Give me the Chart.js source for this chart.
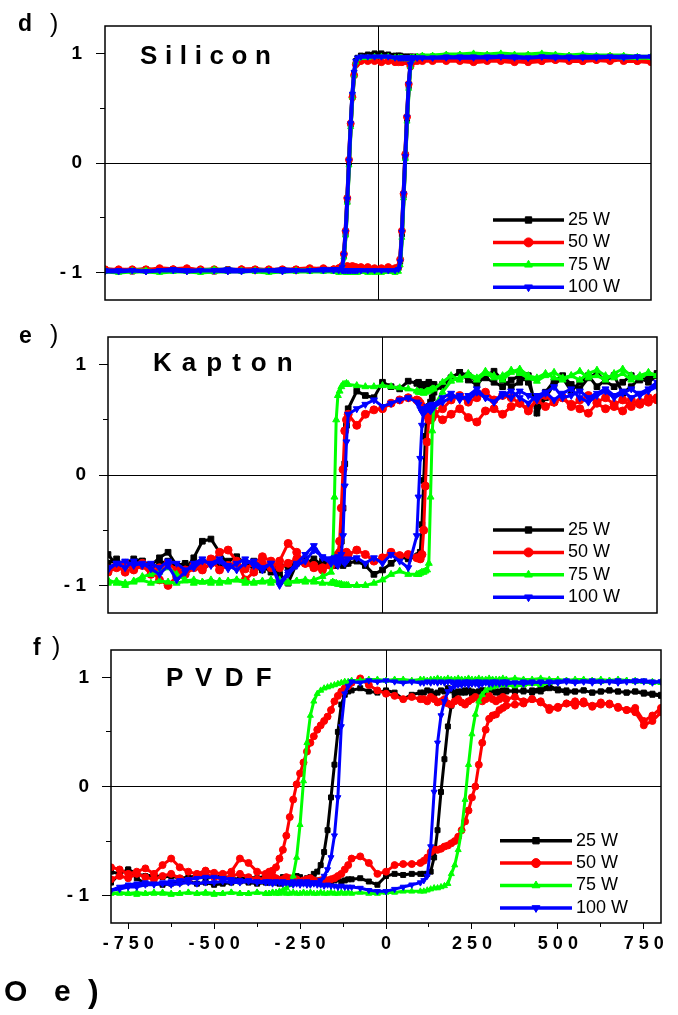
<!DOCTYPE html>
<html><head><meta charset="utf-8">
<script src="https://cdn.jsdelivr.net/npm/chart.js@4/dist/chart.umd.min.js"></script>
<style>
html,body{margin:0;padding:0;background:#fff;}
#wrap{position:relative;width:678px;height:1015px;overflow:hidden;font-family:"Liberation Sans",Arial,Helvetica,sans-serif;color:#000}
canvas{position:absolute;left:0}
.t{position:absolute;white-space:pre;line-height:1;margin:0}
.b{font-weight:bold}
</style></head>
<body><div id="wrap">
<canvas id="cd" width="678" height="312" style="top:0px"></canvas>
<canvas id="ce" width="678" height="312" style="top:312px"></canvas>
<canvas id="cf" width="678" height="391" style="top:624px"></canvas>
<div class="t b" style="left:18px;top:12px;font-size:23px">d</div><div class="t" style="left:50px;top:11px;font-size:25px">)</div>
<div class="t b" style="left:19px;top:324px;font-size:23px">e</div><div class="t" style="left:50px;top:322px;font-size:25px">)</div>
<div class="t b" style="left:33px;top:636px;font-size:23px">f</div><div class="t" style="left:52px;top:634px;font-size:25px">)</div>
<div class="t b" style="left:140px;top:42px;font-size:26px;letter-spacing:0.2px">S i l i c o n</div>
<div class="t b" style="left:153px;top:349px;font-size:26px;letter-spacing:1.4px">K a p t o n</div>
<div class="t b" style="left:166px;top:664px;font-size:26px;letter-spacing:2.5px">P V D F</div>
<div class="t b" style="left:4px;top:976px;font-size:30px">O</div><div class="t b" style="left:54px;top:976px;font-size:30px">e</div><div class="t b" style="left:88px;top:975px;font-size:32px">)</div>
</div>
<script>
// ---------- series / axis definitions ----------
const seriesLabels = ['25 W', '50 W', '75 W', '100 W'];
const seriesColors = ['#000000', '#ff0000', '#00ff00', '#0000ff'];
const seriesMarkers = ['rect', 'circle', 'triangle', 'triangle'];
const markerRotation = [0, 0, 0, 180];

const yTickValues = [-1, 0, 1];
const yTickLabels = ['-1', '0', '1'];
const yMinorValues = [-0.5, 0.5];
const xTickValues = [-750, -500, -250, 0, 250, 500, 750];
const xTickLabels = ['-750', '-500', '-250', '0', '250', '500', '750'];
const xMinorValues = [-625, -375, -125, 125, 375, 625];

// ---------- d) Silicon ----------
const siField = [
-800,-760,-720,-680,-640,-600,-560,-520,-480,-440,-400,-360,-320,-280,-240,-200,-160,
-130,-115,-105,-100,-95,-90,-85,-80,-75,-70,-65,-60,-50,-30,-10,
10,30,50,60,65,70,75,80,85,90,95,100,105,115,130,
160,200,240,280,320,360,400,440,480,520,560,600,640,680,720,760,800];
const siUp25 = [
-0.98,-0.98,-0.99,-0.98,-0.98,-0.97,-0.98,-0.99,-0.99,-0.98,-0.98,-0.97,-0.98,-0.98,-0.97,-0.98,-0.98,
-0.98,-0.98,-0.98,-0.97,-0.98,-0.98,-0.98,-0.97,-0.98,-0.98,-0.98,-0.98,-0.97,-0.98,-0.98,
-0.98,-0.97,-0.97,-0.96,-0.9,-0.65,-0.3,0.05,0.4,0.7,0.9,0.95,0.96,0.96,0.97,
0.97,0.97,0.98,0.97,0.97,0.98,0.97,0.97,0.98,0.97,0.97,0.96,0.97,0.96,0.96,0.95,0.95];
const siDown25 = [
-0.97,-0.98,-0.98,-0.97,-0.98,-0.98,-0.97,-0.98,-0.98,-0.97,-0.98,-0.98,-0.98,-0.97,-0.98,-0.98,-0.97,
-0.98,-0.97,-0.96,-0.85,-0.65,-0.35,0.0,0.35,0.62,0.82,0.93,0.96,0.98,0.99,1.0,
1.0,0.99,0.98,0.98,0.98,0.97,0.97,0.97,0.97,0.97,0.97,0.97,0.97,0.97,0.97,
0.97,0.98,0.97,0.97,0.98,0.97,0.97,0.98,0.97,0.96,0.97,0.97,0.96,0.97,0.96,0.96,0.95];
const siUp50 = [
-0.97,-0.98,-0.97,-0.98,-0.96,-0.97,-0.98,-0.97,-0.98,-0.98,-0.97,-0.98,-0.97,-0.98,-0.97,-0.96,-0.97,
-0.97,-0.96,-0.96,-0.95,-0.95,-0.94,-0.95,-0.95,-0.94,-0.95,-0.95,-0.96,-0.95,-0.95,-0.96,
-0.96,-0.95,-0.96,-0.95,-0.88,-0.62,-0.28,0.08,0.42,0.72,0.88,0.92,0.93,0.93,0.94,
0.93,0.94,0.93,0.92,0.93,0.94,0.93,0.92,0.93,0.94,0.93,0.93,0.94,0.97,0.93,0.93,0.92];
const siDown50 = [
-0.98,-0.97,-0.98,-0.97,-0.98,-0.97,-0.96,-0.98,-0.97,-0.98,-0.97,-0.97,-0.98,-0.97,-0.98,-0.97,-0.96,
-0.97,-0.96,-0.94,-0.83,-0.62,-0.32,0.03,0.36,0.6,0.8,0.9,0.92,0.93,0.93,0.93,
0.92,0.93,0.92,0.92,0.93,0.92,0.93,0.93,0.93,0.92,0.93,0.93,0.94,0.94,0.93,
0.94,0.93,0.94,0.93,0.94,0.93,0.92,0.94,0.93,0.94,0.94,0.93,0.94,0.93,0.95,0.93,0.93];
const siUp75 = [
-0.99,-1.0,-0.99,-0.99,-1.0,-0.99,-0.99,-1.0,-0.99,-0.99,-0.98,-0.99,-1.0,-0.99,-0.99,-0.99,-0.99,
-0.99,-1.0,-0.99,-0.99,-1.0,-1.0,-0.99,-1.0,-1.0,-0.99,-1.0,-1.0,-0.99,-1.0,-1.0,
-1.0,-0.99,-1.0,-0.99,-0.93,-0.68,-0.32,0.04,0.38,0.68,0.88,0.94,0.96,0.97,0.98,
0.98,0.99,0.99,1.0,0.99,1.0,0.99,0.99,1.0,0.99,0.98,0.99,0.98,0.98,0.98,0.97,0.97];
const siDown75 = [
-0.98,-0.99,-0.98,-0.98,-0.99,-0.98,-0.99,-0.98,-0.97,-0.98,-0.99,-0.98,-0.98,-0.99,-0.98,-0.98,-0.98,
-0.98,-0.98,-0.96,-0.86,-0.66,-0.36,-0.02,0.33,0.6,0.8,0.92,0.95,0.96,0.96,0.97,
0.97,0.97,0.96,0.96,0.96,0.96,0.95,0.95,0.95,0.95,0.96,0.96,0.96,0.97,0.97,
0.97,0.98,0.98,0.97,0.98,0.98,0.97,0.98,0.97,0.98,0.98,0.97,0.97,0.97,0.96,0.96,0.96];
const siUp100 = [
-0.99,-0.99,-0.98,-0.99,-0.98,-0.98,-0.99,-0.98,-0.98,-0.99,-0.99,-0.98,-0.98,-0.99,-0.98,-0.98,-0.98,
-0.98,-0.98,-0.98,-0.98,-0.98,-0.98,-0.98,-0.98,-0.98,-0.98,-0.98,-0.98,-0.98,-0.98,-0.98,
-0.98,-0.98,-0.98,-0.97,-0.9,-0.63,-0.28,0.06,0.42,0.72,0.9,0.95,0.96,0.96,0.96,
0.96,0.96,0.97,0.97,0.96,0.97,0.97,0.96,0.97,0.97,0.96,0.97,0.97,0.97,0.97,0.97,0.97];
const siDown100 = [
-0.98,-0.98,-0.98,-0.99,-0.98,-0.97,-0.98,-0.98,-0.98,-0.97,-0.98,-0.98,-0.98,-0.97,-0.98,-0.98,-0.97,
-0.97,-0.97,-0.95,-0.84,-0.63,-0.33,0.02,0.36,0.63,0.83,0.93,0.96,0.97,0.97,0.97,
0.97,0.97,0.96,0.96,0.96,0.96,0.96,0.96,0.96,0.96,0.96,0.96,0.96,0.96,0.96,
0.96,0.97,0.96,0.96,0.97,0.97,0.96,0.96,0.97,0.96,0.97,0.96,0.96,0.97,0.96,0.97,0.97];

// ---------- e) Kapton ----------
const kaField = [
-800,-775,-750,-725,-700,-675,-650,-625,-600,-575,-550,-525,-500,-475,-450,-425,-400,-375,-350,-325,-300,-275,-250,-225,-200,-175,-150,
-145,-140,-135,-130,-125,-120,-115,-110,-105,-100,
-75,-50,-25,0,25,50,75,
100,105,110,115,120,125,130,135,140,145,150,
175,200,225,250,275,300,325,350,375,400,425,450,475,500,525,550,575,600,625,650,675,700,725,750,775,800];
const kaUp25 = [
-0.72,-0.82,-0.8,-0.76,-0.78,-0.85,-0.8,-0.78,-0.82,-0.86,-0.75,-0.6,-0.58,-0.7,-0.82,-0.8,-0.85,-0.78,-0.82,-0.88,-0.8,-0.84,-0.78,-0.8,-0.76,-0.82,-0.8,
-0.78,-0.8,-0.82,-0.78,-0.8,-0.8,-0.82,-0.78,-0.8,-0.8,
-0.78,-0.82,-0.9,-0.86,-0.8,-0.74,-0.76,
-0.74,-0.73,-0.7,-0.45,-0.05,0.35,0.58,0.62,0.66,0.7,0.75,
0.82,0.88,0.93,0.9,0.85,0.88,0.84,0.8,0.86,0.9,0.84,0.62,0.75,0.85,0.9,0.82,0.78,0.88,0.92,0.85,0.8,0.84,0.9,0.86,0.88,0.92];
const kaDown25 = [
-0.8,-0.76,-0.84,-0.8,-0.78,-0.82,-0.75,-0.7,-0.82,-0.8,-0.84,-0.86,-0.8,-0.82,-0.78,-0.74,-0.8,-0.84,-0.86,-0.8,-0.9,-0.98,-0.8,-0.76,-0.84,-0.78,-0.8,
-0.8,-0.79,-0.78,-0.8,-0.75,-0.6,-0.3,0.1,0.45,0.6,
0.76,0.72,0.7,0.84,0.8,0.78,0.85,
0.83,0.84,0.82,0.8,0.8,0.82,0.82,0.84,0.82,0.82,0.82,
0.8,0.88,0.93,0.86,0.82,0.9,0.94,0.86,0.8,0.84,0.9,0.56,0.7,0.82,0.88,0.76,0.84,0.9,0.8,0.86,0.9,0.74,0.8,0.88,0.84,0.9];
const kaUp50 = [
-0.85,-0.82,-0.88,-0.84,-0.8,-0.86,-0.95,-1.0,-0.92,-0.86,-0.82,-0.86,-0.8,-0.7,-0.68,-0.78,-0.95,-0.88,-0.8,-0.84,-0.78,-0.62,-0.7,-0.8,-0.84,-0.86,-0.82,
-0.8,-0.78,-0.76,-0.74,-0.7,-0.72,-0.74,-0.72,-0.7,-0.72,
-0.68,-0.72,-0.78,-0.75,-0.7,-0.73,-0.72,
-0.75,-0.75,-0.76,-0.72,-0.5,-0.1,0.3,0.5,0.55,0.6,0.56,
0.5,0.55,0.6,0.52,0.48,0.58,0.6,0.55,0.62,0.65,0.58,0.68,0.62,0.66,0.7,0.64,0.6,0.56,0.65,0.6,0.62,0.58,0.68,0.64,0.66,0.68];
const kaDown50 = [
-0.88,-0.84,-0.8,-0.86,-0.82,-0.9,-0.84,-0.8,-0.86,-0.9,-0.84,-0.8,-0.76,-0.86,-0.82,-0.8,-0.85,-0.8,-0.74,-0.78,-0.84,-0.8,-0.76,-0.8,-0.82,-0.84,-0.8,
-0.78,-0.76,-0.74,-0.72,-0.6,-0.3,0.05,0.4,0.5,0.55,
0.45,0.55,0.59,0.6,0.65,0.68,0.7,
0.68,0.67,0.65,0.62,0.6,0.58,0.54,0.52,0.5,0.52,0.55,
0.6,0.68,0.72,0.66,0.7,0.75,0.68,0.72,0.7,0.65,0.6,0.68,0.72,0.66,0.7,0.62,0.68,0.72,0.66,0.7,0.64,0.68,0.62,0.66,0.7,0.7];
const kaUp75 = [
-0.95,-0.98,-1.0,-0.96,-0.92,-0.9,-0.88,-0.84,-0.9,-0.95,-0.98,-0.97,-0.95,-0.98,-0.96,-0.95,-0.98,-0.97,-0.96,-0.98,-0.95,-0.97,-0.96,-0.95,-0.97,-0.98,-0.98,
-0.97,-0.98,-0.98,-0.99,-0.99,-0.99,-1.0,-1.0,-1.0,-1.0,
-1.0,-1.0,-0.98,-0.95,-0.9,-0.87,-0.9,
-0.9,-0.9,-0.89,-0.88,-0.88,-0.87,-0.86,-0.8,-0.2,0.4,0.62,
0.75,0.85,0.88,0.9,0.86,0.92,0.88,0.9,0.95,0.92,0.88,0.85,0.9,0.93,0.88,0.9,0.86,0.92,0.95,0.9,0.88,0.92,0.86,0.9,0.93,0.9];
const kaDown75 = [
-0.98,-0.96,-0.98,-0.97,-0.95,-0.98,-0.96,-0.97,-0.98,-0.96,-0.95,-0.97,-0.98,-0.96,-0.97,-0.95,-0.96,-0.98,-0.97,-0.95,-0.97,-0.98,-0.96,-0.97,-0.95,-0.92,-0.88,
-0.75,-0.2,0.5,0.72,0.76,0.8,0.82,0.82,0.83,0.82,
0.81,0.8,0.8,0.81,0.8,0.79,0.78,
0.76,0.75,0.75,0.75,0.74,0.75,0.76,0.76,0.77,0.78,0.78,
0.84,0.9,0.86,0.92,0.88,0.94,0.9,0.86,0.93,0.96,0.9,0.88,0.92,0.88,0.86,0.9,0.94,0.88,0.9,0.86,0.92,0.96,0.9,0.88,0.92,0.9];
const kaUp100 = [
-0.84,-0.8,-0.78,-0.82,-0.8,-0.85,-0.9,-0.82,-0.95,-0.88,-0.8,-0.76,-0.82,-0.78,-0.85,-0.8,-0.76,-0.82,-0.86,-0.8,-0.98,-0.88,-0.8,-0.72,-0.64,-0.75,-0.8,
-0.78,-0.76,-0.8,-0.82,-0.78,-0.76,-0.78,-0.8,-0.78,-0.76,
-0.75,-0.8,-0.75,-0.8,-0.72,-0.78,-0.84,
-0.55,-0.2,0.15,0.45,0.58,0.6,0.62,0.6,0.58,0.6,0.62,
0.66,0.7,0.72,0.68,0.75,0.7,0.66,0.72,0.76,0.7,0.65,0.72,0.75,0.68,0.74,0.78,0.7,0.66,0.72,0.76,0.7,0.74,0.78,0.72,0.76,0.8];
const kaDown100 = [
-0.86,-0.8,-0.84,-0.78,-0.82,-0.8,-0.84,-0.78,-0.8,-0.86,-0.84,-0.78,-0.8,-0.76,-0.82,-0.86,-0.8,-0.78,-0.84,-0.8,-1.0,-0.9,-0.82,-0.78,-0.68,-0.74,-0.76,
-0.76,-0.75,-0.76,-0.74,-0.76,-0.72,-0.55,-0.1,0.3,0.55,
0.6,0.64,0.68,0.62,0.65,0.68,0.7,
0.66,0.64,0.6,0.57,0.56,0.58,0.6,0.62,0.63,0.64,0.64,
0.7,0.74,0.68,0.72,0.78,0.7,0.66,0.74,0.7,0.76,0.72,0.68,0.74,0.8,0.7,0.72,0.76,0.7,0.74,0.78,0.72,0.76,0.7,0.74,0.78,0.84];

// ---------- f) PVDF ----------
const pvField = [
-800,-775,-750,-725,-700,-675,-650,-625,-600,-575,-550,-525,-500,-475,-450,-425,-400,-375,-350,
-340,-330,-320,-310,-300,-290,-280,-270,-260,-250,-240,-230,-220,-210,-200,-190,-180,-170,-160,-150,-140,-130,-120,-110,
-100,-75,-50,-25,0,25,50,75,100,
110,120,130,140,150,160,170,180,190,200,210,220,230,240,250,260,270,280,290,300,310,320,330,340,
350,375,400,425,450,475,500,525,550,575,600,625,650,675,700,725,750,775,800];
const pvUp25 = [
-0.88,-0.8,-0.76,-0.84,-0.89,-0.88,-0.9,-0.89,-0.88,-0.87,-0.89,-0.88,-0.9,-0.89,-0.88,-0.87,-0.88,-0.89,-0.88,
-0.88,-0.87,-0.88,-0.89,-0.88,-0.87,-0.88,-0.86,-0.87,-0.88,-0.87,-0.86,-0.88,-0.87,-0.86,-0.87,-0.86,-0.88,-0.87,-0.86,-0.85,-0.87,-0.86,-0.85,
-0.85,-0.84,-0.87,-0.9,-0.82,-0.8,-0.81,-0.8,-0.8,
-0.8,-0.8,-0.78,-0.65,-0.4,-0.05,0.25,0.55,0.74,0.83,0.86,0.87,0.86,0.88,0.87,0.86,0.87,0.88,0.86,0.87,0.88,0.86,0.87,0.88,
0.87,0.88,0.87,0.88,0.9,0.92,0.89,0.88,0.87,0.88,0.86,0.87,0.88,0.87,0.86,0.87,0.86,0.85,0.84];
const pvDown25 = [
-0.78,-0.8,-0.76,-0.8,-0.82,-0.81,-0.83,-0.82,-0.84,-0.83,-0.82,-0.84,-0.83,-0.82,-0.84,-0.85,-0.83,-0.84,-0.82,
-0.83,-0.84,-0.86,-0.85,-0.83,-0.84,-0.85,-0.84,-0.82,-0.83,-0.86,-0.84,-0.83,-0.8,-0.78,-0.72,-0.6,-0.4,-0.1,0.2,0.5,0.75,0.84,0.87,
0.88,0.9,0.87,0.86,0.88,0.86,0.8,0.84,0.86,
0.86,0.88,0.87,0.85,0.86,0.88,0.87,0.9,0.88,0.86,0.87,0.86,0.88,0.87,0.85,0.86,0.87,0.88,0.87,0.86,0.88,0.87,0.86,0.87,
0.88,0.87,0.88,0.86,0.87,0.9,0.88,0.86,0.87,0.88,0.86,0.87,0.88,0.87,0.86,0.87,0.85,0.84,0.83];
const pvUp50 = [
-0.85,-0.82,-0.84,-0.8,-0.83,-0.85,-0.82,-0.8,-0.84,-0.86,-0.82,-0.8,-0.83,-0.85,-0.82,-0.8,-0.83,-0.85,-0.84,
-0.83,-0.82,-0.84,-0.86,-0.85,-0.83,-0.84,-0.86,-0.85,-0.87,-0.86,-0.85,-0.84,-0.86,-0.87,-0.86,-0.85,-0.86,-0.85,-0.84,-0.82,-0.8,-0.76,-0.72,
-0.66,-0.64,-0.7,-0.8,-0.78,-0.72,-0.71,-0.71,-0.7,
-0.68,-0.65,-0.6,-0.58,-0.58,-0.57,-0.55,-0.54,-0.52,-0.5,-0.46,-0.4,-0.32,-0.22,-0.1,0.0,0.2,0.4,0.52,0.62,0.65,0.66,0.7,0.72,
0.74,0.75,0.76,0.8,0.78,0.72,0.73,0.76,0.78,0.76,0.74,0.77,0.75,0.73,0.7,0.72,0.6,0.65,0.72];
const pvDown50 = [
-0.74,-0.76,-0.8,-0.78,-0.75,-0.8,-0.72,-0.66,-0.74,-0.78,-0.8,-0.77,-0.79,-0.8,-0.78,-0.66,-0.7,-0.78,-0.8,
-0.78,-0.77,-0.74,-0.66,-0.58,-0.45,-0.28,-0.12,0.02,0.12,0.22,0.32,0.4,0.46,0.52,0.56,0.6,0.64,0.7,0.78,0.83,0.87,0.9,0.92,
0.95,0.99,0.93,0.88,0.85,0.83,0.8,0.82,0.8,
0.8,0.78,0.82,0.8,0.77,0.78,0.8,0.76,0.75,0.78,0.8,0.77,0.75,0.78,0.8,0.82,0.8,0.78,0.8,0.83,0.8,0.78,0.8,0.82,
0.8,0.82,0.78,0.8,0.77,0.7,0.72,0.76,0.74,0.78,0.73,0.75,0.76,0.72,0.7,0.68,0.56,0.6,0.68];
const pvUp75 = [
-0.97,-0.98,-0.98,-0.99,-0.98,-0.97,-0.98,-0.99,-0.98,-0.97,-0.98,-0.98,-0.99,-0.98,-0.97,-0.98,-0.98,-0.97,-0.98,
-0.98,-0.97,-0.98,-0.98,-0.97,-0.98,-0.98,-0.97,-0.98,-0.98,-0.97,-0.98,-0.97,-0.98,-0.98,-0.97,-0.98,-0.98,-0.97,-0.98,-0.98,-0.97,-0.98,-0.97,
-0.98,-0.97,-0.98,-0.98,-0.97,-0.97,-0.96,-0.96,-0.96,
-0.96,-0.95,-0.94,-0.93,-0.93,-0.92,-0.91,-0.89,-0.8,-0.72,-0.58,-0.4,-0.12,0.2,0.48,0.66,0.78,0.84,0.88,0.9,0.91,0.92,0.93,0.93,
0.93,0.92,0.93,0.94,0.93,0.95,0.96,0.97,0.96,0.97,0.97,0.96,0.97,0.96,0.97,0.96,0.96,0.95,0.95];
const pvDown75 = [
-0.98,-0.97,-0.98,-0.97,-0.98,-0.98,-0.97,-0.98,-0.98,-0.97,-0.98,-0.97,-0.98,-0.98,-0.97,-0.98,-0.98,-0.97,-0.98,
-0.98,-0.97,-0.97,-0.96,-0.95,-0.93,-0.9,-0.82,-0.65,-0.35,0.05,0.4,0.65,0.78,0.85,0.88,0.9,0.91,0.92,0.93,0.94,0.95,0.96,0.96,
0.97,0.97,0.98,0.98,0.97,0.98,0.98,0.97,0.98,
0.98,0.97,0.98,0.98,0.99,0.98,0.98,0.99,0.98,0.98,0.99,0.98,0.98,0.99,0.98,0.98,0.99,0.98,0.98,0.99,0.98,0.98,0.98,0.99,
0.98,0.99,0.98,0.98,0.99,0.98,0.98,0.97,0.98,0.98,0.97,0.98,0.97,0.98,0.97,0.97,0.96,0.96,0.96];
const pvUp100 = [
-0.95,-0.94,-0.92,-0.92,-0.9,-0.9,-0.89,-0.9,-0.89,-0.88,-0.89,-0.88,-0.88,-0.87,-0.88,-0.88,-0.87,-0.88,-0.88,
-0.88,-0.89,-0.88,-0.88,-0.89,-0.88,-0.89,-0.9,-0.89,-0.9,-0.89,-0.9,-0.9,-0.89,-0.9,-0.9,-0.91,-0.9,-0.91,-0.91,-0.92,-0.91,-0.92,-0.92,
-0.92,-0.93,-0.95,-0.96,-0.96,-0.94,-0.92,-0.9,-0.88,
-0.86,-0.82,-0.55,-0.05,0.4,0.65,0.78,0.87,0.9,0.92,0.93,0.93,0.94,0.93,0.94,0.94,0.93,0.94,0.95,0.94,0.94,0.95,0.94,0.95,
0.94,0.95,0.94,0.95,0.96,0.95,0.95,0.96,0.95,0.96,0.95,0.96,0.96,0.95,0.96,0.96,0.96,0.95,0.96];
const pvDown100 = [
-0.95,-0.92,-0.9,-0.89,-0.88,-0.89,-0.88,-0.87,-0.86,-0.85,-0.84,-0.83,-0.83,-0.84,-0.85,-0.86,-0.86,-0.87,-0.87,
-0.87,-0.88,-0.87,-0.88,-0.87,-0.88,-0.88,-0.87,-0.88,-0.87,-0.88,-0.87,-0.88,-0.88,-0.88,-0.86,-0.82,-0.76,-0.65,-0.45,-0.1,0.55,0.85,0.92,
0.96,0.95,0.97,0.96,0.97,0.96,0.95,0.96,0.95,
0.95,0.96,0.95,0.96,0.95,0.96,0.95,0.96,0.96,0.95,0.96,0.95,0.96,0.96,0.95,0.96,0.96,0.95,0.96,0.95,0.96,0.96,0.95,0.96,
0.96,0.95,0.96,0.96,0.95,0.96,0.96,0.97,0.96,0.96,0.97,0.96,0.96,0.97,0.96,0.97,0.97,0.96,0.96];

// ---------- build ----------
const FONT = "'Liberation Sans', Arial, Helvetica, sans-serif";
const spaced = s => s.split('').join(' ');

function loopPoints(field, up, down) {
  if (up.length !== field.length || down.length !== field.length)
    throw new Error('length mismatch ' + field.length + ' ' + up.length + ' ' + down.length);
  const a = field.map((h, i) => ({x: h, y: up[i]}));
  const b = field.map((h, i) => ({x: h, y: down[i]})).reverse();
  return a.concat(b);
}

const frameLegend = {
  id: 'frameLegend',
  afterDatasetsDraw(chart, args, opts) {
    const ctx = chart.ctx, a = chart.chartArea;
    ctx.save();
    ctx.strokeStyle = '#000';
    ctx.lineWidth = 1.5;
    ctx.strokeRect(a.left, a.top, a.right - a.left, a.bottom - a.top);
    const L = opts.legend;
    chart.data.datasets.forEach((ds, i) => {
      const y = L.y + i * L.dy;
      ctx.strokeStyle = ds.borderColor;
      ctx.lineWidth = 3.5;
      ctx.beginPath(); ctx.moveTo(L.x, y); ctx.lineTo(L.x + L.len, y); ctx.stroke();
      ctx.fillStyle = ds.borderColor;
      ctx.lineWidth = 1;
      Chart.helpers.drawPoint(ctx, {pointStyle: ds.pointStyle, rotation: ds.pointRotation || 0, radius: 4.5, borderWidth: 1}, L.x + L.len / 2, y);
      ctx.fillStyle = '#000';
      ctx.font = '18px ' + FONT;
      ctx.textBaseline = 'middle';
      ctx.textAlign = 'left';
      ctx.fillText(ds.label, L.x + L.len + 4, y);
    });
    ctx.restore();
  }
};

const zeroColor = c => (c.tick && c.tick.value === 0) ? '#000' : 'rgba(0,0,0,0)';
const noPad = s => { s.paddingTop = 0; s.paddingBottom = 0; s.paddingLeft = 0; s.paddingRight = 0; };

function makePanel(P) {
  const datasets = seriesLabels.map((lab, i) => ({
    label: lab,
    data: loopPoints(P.field, P.ups[i], P.downs[i]),
    borderColor: seriesColors[i], backgroundColor: seriesColors[i],
    pointBackgroundColor: seriesColors[i], pointBorderColor: seriesColors[i],
    pointStyle: seriesMarkers[i], pointRotation: markerRotation[i],
    pointRadius: P.pr, pointBorderWidth: 1, borderWidth: P.lw,
    tension: 0, fill: false, order: seriesLabels.length - i
  }));
  const scales = {
    y2: {type: 'linear', position: 'left', min: -1.25, max: 1.25, weight: 0,
      afterBuildTicks: s => { s.ticks = yMinorValues.map(v => ({value: v})); },
      afterFit: s => { s.width = 0; noPad(s); },
      ticks: {display: false},
      grid: {drawOnChartArea: false, drawTicks: true, tickLength: 5, tickColor: '#000', tickWidth: 1},
      border: {display: false}},
    y: {type: 'linear', position: 'left', min: -1.25, max: 1.25, weight: 1,
      afterBuildTicks: s => { s.ticks = yTickValues.map(v => ({value: v})); },
      afterFit: s => { s.width = P.yw; noPad(s); },
      ticks: {color: '#000', padding: P.ypad, font: {family: FONT, size: 19, weight: 'bold'},
        callback: v => spaced(yTickLabels[yTickValues.indexOf(v)])},
      grid: {color: zeroColor, lineWidth: 1, drawTicks: true, tickLength: 9, tickColor: '#000', tickWidth: 1},
      border: {display: false}},
    x: {type: 'linear', position: 'bottom', min: -800, max: 800, weight: 1,
      afterBuildTicks: s => { s.ticks = (P.xLabels ? xTickValues : [0]).map(v => ({value: v})); },
      afterFit: s => { s.height = P.xh; noPad(s); },
      ticks: {display: !!P.xLabels, color: '#000', padding: 4, maxRotation: 0, autoSkip: false,
        font: {family: FONT, size: 18, weight: 'bold'},
        callback: v => spaced(xTickLabels[xTickValues.indexOf(v)])},
      grid: {color: zeroColor, lineWidth: 1, drawTicks: !!P.xLabels, tickLength: 6, tickColor: '#000', tickWidth: 1},
      border: {display: false}}
  };
  if (P.xLabels) {
    scales.x2 = {type: 'linear', position: 'bottom', min: -800, max: 800, weight: 0,
      afterBuildTicks: s => { s.ticks = xMinorValues.map(v => ({value: v})); },
      afterFit: s => { s.height = 0; noPad(s); },
      ticks: {display: false},
      grid: {drawOnChartArea: false, drawTicks: true, tickLength: 4, tickColor: '#000', tickWidth: 1},
      border: {display: false}};
  }
  return new Chart(document.getElementById(P.id), {
    type: 'line',
    data: {datasets},
    options: {
      responsive: false, animation: false, devicePixelRatio: 1, events: [],
      layout: {padding: P.pad},
      plugins: {legend: {display: false}, tooltip: {enabled: false}, frameLegend: {legend: P.legend}},
      scales
    },
    plugins: [frameLegend]
  });
}

makePanel({id: 'cd', field: siField,
  ups: [siUp25, siUp50, siUp75, siUp100], downs: [siDown25, siDown50, siDown75, siDown100],
  pad: {top: 26, right: 27, bottom: 12, left: 0}, yw: 105, ypad: 14, xh: 0, xLabels: false,
  lw: 4, pr: 3.5, legend: {x: 493, y: 220, dy: 22.4, len: 71}});
makePanel({id: 'ce', field: kaField,
  ups: [kaUp25, kaUp50, kaUp75, kaUp100], downs: [kaDown25, kaDown50, kaDown75, kaDown100],
  pad: {top: 25, right: 21, bottom: 11, left: 0}, yw: 108, ypad: 13, xh: 0, xLabels: false,
  lw: 3, pr: 4, legend: {x: 493, y: 218, dy: 22.4, len: 71}});
makePanel({id: 'cf', field: pvField,
  ups: [pvUp25, pvUp50, pvUp75, pvUp100], downs: [pvDown25, pvDown50, pvDown75, pvDown100],
  pad: {top: 26, right: 17, bottom: 47, left: 0}, yw: 111, ypad: 13, xh: 45, xLabels: true,
  lw: 3, pr: 3.5, legend: {x: 500, y: 216.7, dy: 22.4, len: 72}});
</script>
</body></html>
